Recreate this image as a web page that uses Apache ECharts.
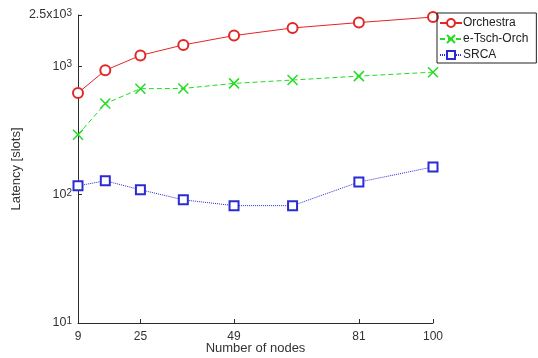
<!DOCTYPE html>
<html>
<head>
<meta charset="utf-8">
<script src="https://cdn.jsdelivr.net/npm/echarts@6/dist/echarts.min.js"></script>
<style>html,body{margin:0;padding:0;background:#fff}#c{width:538px;height:358px}</style>
</head>
<body>
<div id="c"></div>
<script>
const nodes = [9, 16, 25, 36, 49, 64, 81, 100];
const orchestra = [618, 927, 1211, 1462, 1729, 1982, 2183, 2410];
const eTschOrch = [292, 511, 667, 670, 734, 779, 836, 897];
const srca = [117, 128, 109, 91, 82, 82, 125, 164];
const xTicks = [9, 25, 49, 81, 100];
const yTicks = [10, 100, 1000, 2500];
const yTickBase = ['10', '10', '10', '2.5x10'];
const yTickExp = ['1', '2', '3', '3'];

const font = 'Liberation Sans, Arial, Helvetica, sans-serif';
const axisColor = '#2b2b2b';
const textColor = '#333333';
const cross = 'path://M0,0L10,10M10,0L0,10';

function pairs(vals) { return nodes.map((n, i) => [n, vals[i]]); }

const chart = echarts.init(document.getElementById('c'), null, {renderer: 'canvas'});
chart.setOption({
  animation: false,
  backgroundColor: '#fff',
  grid: {left: 78, right: 105, top: 15, bottom: 35, containLabel: false, outerBoundsMode: 'none'},
  legend: {
    orient: 'vertical',
    left: 437, top: 13,
    itemWidth: 22, itemHeight: 10, itemGap: 4,
    padding: [4, 8, 2, 2],
    borderColor: '#222', borderWidth: 1,
    textStyle: {fontFamily: font, fontSize: 12, color: '#222', padding: [0, 0, 0, -4]},
    data: ['Orchestra', 'e-Tsch-Orch', 'SRCA']
  },
  xAxis: {
    type: 'value', min: 9, max: 100,
    name: 'Number of nodes', nameLocation: 'middle', nameGap: 19, nameMoveOverlap: false,
    nameTextStyle: {fontFamily: font, fontSize: 13, color: textColor},
    axisLine: {lineStyle: {color: axisColor, width: 1}},
    axisTick: {inside: true, length: 4, customValues: xTicks, lineStyle: {color: axisColor}},
    axisLabel: {customValues: xTicks, fontFamily: font, fontSize: 12, color: textColor, margin: 8},
    splitLine: {show: false}
  },
  yAxis: {
    type: 'log', logBase: 10, min: 10, max: 2500,
    name: 'Latency [slots]', nameLocation: 'middle', nameGap: 55, nameMoveOverlap: false,
    nameTextStyle: {fontFamily: font, fontSize: 13, color: textColor},
    axisLine: {show: true, lineStyle: {color: axisColor, width: 1}},
    axisTick: {show: true, inside: true, length: 4, customValues: yTicks, lineStyle: {color: axisColor}},
    axisLabel: {
      customValues: yTicks, margin: 6,
      formatter: function (v) {
        const i = yTicks.findIndex(t => Math.abs(t - v) / t < 1e-6);
        return i >= 0 ? '{b|' + yTickBase[i] + '}{s|' + yTickExp[i] + '}' : '';
      },
      rich: {
        b: {fontFamily: font, fontSize: 12.5, color: textColor, verticalAlign: 'bottom', lineHeight: 13},
        s: {fontFamily: font, fontSize: 10, color: textColor, verticalAlign: 'top', lineHeight: 10, padding: [0, 0, 8, 0]}
      }
    },
    splitLine: {show: false}
  },
  series: [
    {
      name: 'Orchestra', type: 'line', data: pairs(orchestra),
      symbol: 'emptyCircle', symbolSize: 10,
      lineStyle: {color: '#e32626', width: 1, type: 'solid'},
      itemStyle: {color: '#e32626', borderColor: '#e32626', borderWidth: 1}
    },
    {
      name: 'e-Tsch-Orch', type: 'line', data: pairs(eTschOrch),
      symbol: cross, symbolSize: 10,
      lineStyle: {color: '#22dd22', width: 1, type: [5, 3]},
      itemStyle: {color: '#22dd22', borderColor: '#22dd22', borderWidth: 1.5}
    },
    {
      name: 'SRCA', type: 'line', data: pairs(srca),
      symbol: 'emptyRect', symbolSize: 9,
      lineStyle: {color: '#2b2bd6', width: 1, type: [1, 1]},
      itemStyle: {color: '#2b2bd6', borderColor: '#2b2bd6', borderWidth: 1}
    }
  ]
});
</script>
</body>
</html>
